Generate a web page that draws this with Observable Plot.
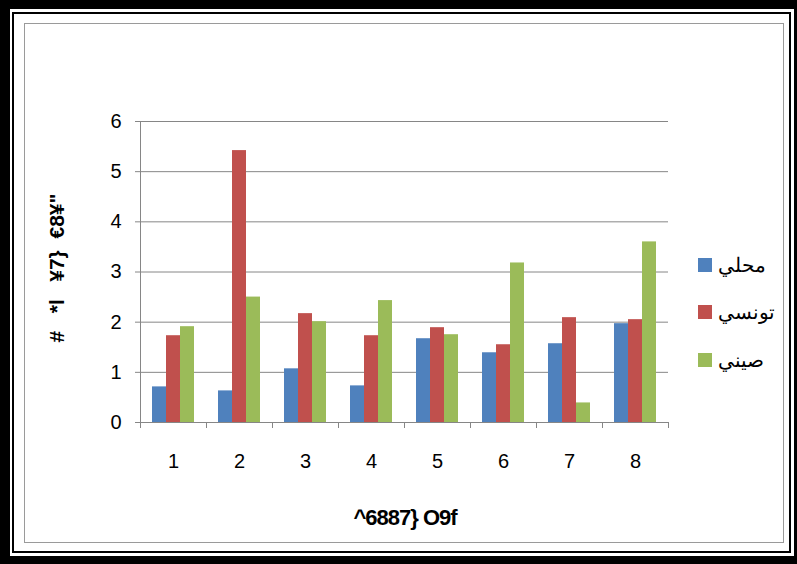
<!DOCTYPE html>
<html>
<head>
<meta charset="utf-8">
<script src="https://cdn.jsdelivr.net/npm/d3@7"></script>
<script src="https://cdn.jsdelivr.net/npm/@observablehq/plot@0.6"></script>
<style>
  html, body { margin: 0; padding: 0; }
  body { width: 797px; height: 564px; background: #000; position: relative; overflow: hidden; font-family: "Liberation Sans", Arial, sans-serif; }
  .abs { position: absolute; }
  #legend .item { position: absolute; left: 0; display: flex; align-items: center; gap: 6px; font-size: 20px; color: #000; white-space: nowrap; }
  #legend .sw { width: 14px; height: 14px; display: inline-block; }
</style>
</head>
<body>
<div class="abs" style="left:10px;top:9px;width:784px;height:547px;background:#fff"></div>
<div class="abs" style="left:12px;top:12px;width:779px;height:541px;box-sizing:border-box;border:2px solid #000"></div>
<div class="abs" style="left:24px;top:23px;width:760px;height:520px;box-sizing:border-box;border:1px solid #9a9a9a"></div>
<div id="chart" class="abs" style="left:60px;top:90px"></div>
<div id="ytitle" class="abs" style="left:57px;top:268px;transform:translate(-50%,-50%) rotate(-90deg);font-weight:bold;font-size:21px;white-space:pre"></div>
<div id="xtitle" class="abs" style="left:405px;top:518px;transform:translate(-50%,-50%);font-weight:bold;font-size:22px;white-space:nowrap;letter-spacing:-1px"></div>
<div id="legend" class="abs" style="left:698px;top:0px"></div>
<script>
const categories = ["1", "2", "3", "4", "5", "6", "7", "8"];
const seriesNames = ["محلي", "تونسي", "صيني"];
const localValues = [0.71, 0.63, 1.07, 0.73, 1.67, 1.39, 1.57, 1.97];
const tunisianValues = [1.73, 5.42, 2.17, 1.73, 1.89, 1.55, 2.09, 2.05];
const chineseValues = [1.91, 2.50, 2.01, 2.43, 1.75, 3.18, 0.39, 3.60];
const seriesColors = ["#4F81BD", "#C0504D", "#9BBB59"];
const yTicks = [0, 1, 2, 3, 4, 5, 6];
const yTitle = "#   *l   ¥7}  €8¥\"";
const xTitle = "^6887} O9f";

const seriesValues = [localValues, tunisianValues, chineseValues];
const data = categories.flatMap((c, i) =>
  seriesNames.map((s, j) => ({cat: c, series: s, value: seriesValues[j][i]}))
);

const axisGray = "#868686";
const chart = Plot.plot({
  width: 616,
  height: 382,
  marginLeft: 76,
  marginTop: 31,
  marginRight: 5,
  marginBottom: 50,
  style: {fontFamily: "'Liberation Sans', Arial, sans-serif", fontSize: "20px", color: "#000", background: "transparent", overflow: "visible"},
  fx: {domain: categories, padding: 0, label: null},
  x: {domain: seriesNames, paddingInner: 0, paddingOuter: 0.73, axis: null},
  y: {domain: [0, 6], label: null},
  color: {domain: seriesNames, range: seriesColors},
  marks: [
    Plot.gridY(yTicks, {stroke: axisGray, strokeOpacity: 1}),
    Plot.axisY(yTicks, {tickSize: 5, tickPadding: 14, stroke: axisGray, label: null, fontSize: 20, tickFormat: d => String(d)}),
    Plot.axisFx({tickSize: 0, tickPadding: 31, label: null, anchor: "bottom", fontSize: 20}),
    Plot.frame({anchor: "left", stroke: axisGray, insetBottom: -5, facetAnchor: "left"}),
    Plot.frame({anchor: "left", stroke: axisGray, insetTop: 301, insetBottom: -5}),
    Plot.frame({anchor: "right", stroke: axisGray, insetTop: 301, insetBottom: -5, facetAnchor: "right"}),
    Plot.barY(data, {fx: "cat", x: "series", y: "value", fill: "series"})
  ]
});
document.getElementById("chart").appendChild(chart);
document.getElementById("ytitle").textContent = yTitle;
document.getElementById("xtitle").textContent = xTitle;

const legend = document.getElementById("legend");
const rowY = [265, 312, 360];
seriesNames.forEach((s, i) => {
  const item = document.createElement("div");
  item.className = "item";
  item.style.top = (rowY[i] - 14) + "px";
  item.style.height = "28px";
  const sw = document.createElement("span");
  sw.className = "sw";
  sw.style.background = seriesColors[i];
  const label = document.createElement("span");
  label.textContent = s;
  item.appendChild(sw);
  item.appendChild(label);
  legend.appendChild(item);
});
</script>
</body>
</html>
